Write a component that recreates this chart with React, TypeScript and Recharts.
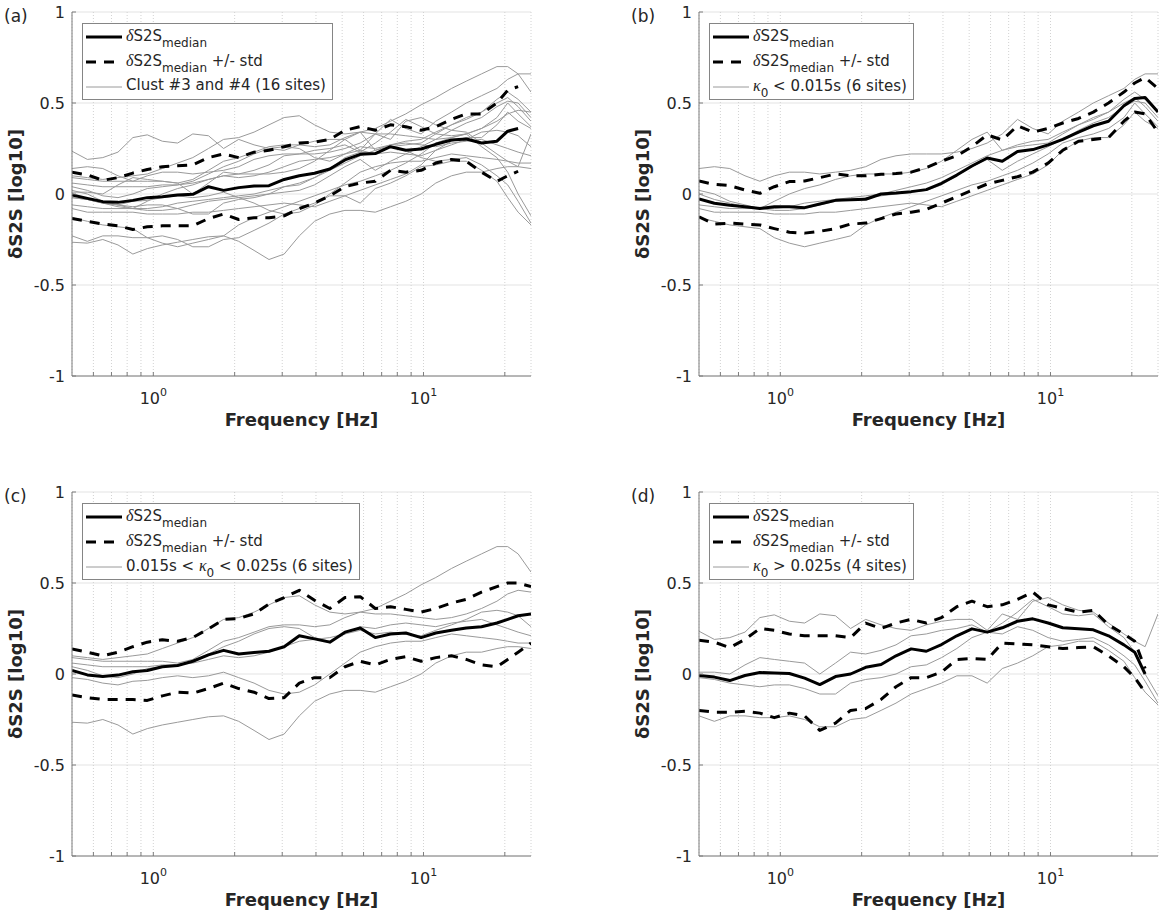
import React from 'react';
import { LineChart, Line, XAxis, YAxis, CartesianGrid, Legend } from 'recharts';

// Frequency samples (Hz) shared by every curve
const FREQ = [
  0.5, 0.57, 0.65, 0.74, 0.84, 0.95, 1.08, 1.23, 1.4, 1.6,
  1.82, 2.07, 2.36, 2.68, 3.05, 3.47, 3.95, 4.5, 5.12, 5.83,
  6.63, 7.55, 8.6, 9.8, 11.1, 12.7, 14.4, 16.4, 18.7, 20.5,
  22.4, 25,
];

const X_TICKS = [0.6, 0.7, 0.8, 0.9, 1, 2, 3, 4, 5, 6, 7, 8, 9, 10, 20];
const X_LABELLED = [1, 10];
const Y_TICKS = [-1, -0.5, 0, 0.5, 1];

// ---- Clusters #3 and #4 together (16 sites) ----
const CLUSTER_MEDIAN = [
  -0.005, -0.024, -0.042, -0.046, -0.035, -0.02, -0.015, -0.005, -0.002, 0.04,
  0.02, 0.035, 0.044, 0.046, 0.08, 0.1, 0.114, 0.137, 0.187, 0.218,
  0.222, 0.26, 0.24, 0.247, 0.273, 0.297, 0.302, 0.28, 0.29, 0.345,
  0.36, null,
];
const CLUSTER_UPPER = [
  0.12, 0.105, 0.075, 0.09, 0.115, 0.135, 0.15, 0.155, 0.16, 0.2,
  0.22, 0.2, 0.23, 0.24, 0.26, 0.28, 0.285, 0.3, 0.35, 0.37,
  0.35, 0.38, 0.37, 0.35, 0.37, 0.41, 0.44, 0.44, 0.5, 0.57,
  0.59, null,
];
const CLUSTER_LOWER = [
  -0.135, -0.15, -0.165, -0.175, -0.195, -0.18, -0.175, -0.175, -0.175, -0.135,
  -0.11, -0.14, -0.13, -0.13, -0.12, -0.08, -0.05, -0.01, 0.04, 0.06,
  0.07, 0.13, 0.12, 0.13, 0.17, 0.19, 0.18, 0.12, 0.07, 0.1,
  0.125, null,
];

// ---- kappa0 < 0.015 s (6 sites) ----
const LOW_K_MEDIAN = [
  -0.027, -0.051, -0.062, -0.07, -0.08, -0.07, -0.07, -0.075, -0.055, -0.035,
  -0.031, -0.029, 0.0, 0.005, 0.013, 0.024, 0.059, 0.104, 0.154, 0.198,
  0.18, 0.233, 0.244, 0.27, 0.3, 0.34, 0.375, 0.4, 0.485, 0.525,
  0.53, 0.45,
];
const LOW_K_UPPER = [
  0.071, 0.053, 0.046, 0.022, 0.004, 0.04, 0.068, 0.071, 0.09, 0.11,
  0.1, 0.1, 0.108, 0.112, 0.12, 0.145, 0.18, 0.21, 0.26, 0.325,
  0.297, 0.375, 0.34, 0.36, 0.39, 0.415, 0.45, 0.5, 0.56, 0.61,
  0.64, 0.58,
];
const LOW_K_LOWER = [
  -0.125, -0.165, -0.16, -0.165, -0.17, -0.19, -0.21, -0.215, -0.205, -0.19,
  -0.165, -0.16, -0.135, -0.11, -0.1, -0.085, -0.05, -0.015, 0.02, 0.055,
  0.075, 0.095, 0.12, 0.17, 0.24, 0.29, 0.3, 0.31, 0.4, 0.45,
  0.44, 0.34,
];
const LOW_K_SITES = [
  [0.14, 0.15, 0.14, 0.1, 0.07, 0.1, 0.12, 0.12, 0.11, 0.12,
    0.13, 0.15, 0.19, 0.21, 0.22, 0.22, 0.22, 0.23, 0.25, 0.28,
    0.33, 0.41, 0.36, 0.33, 0.4, 0.45, 0.5, 0.54, 0.58, 0.63,
    0.66, 0.66],
  [0.02, 0.0, -0.04, -0.06, -0.08, -0.04, 0.0, 0.03, 0.05, 0.08,
    0.1, 0.11, 0.11, 0.11, 0.12, 0.14, 0.18, 0.24, 0.3, 0.34,
    0.24, 0.27, 0.29, 0.3, 0.34, 0.38, 0.42, 0.45, 0.5, 0.53,
    0.48, 0.4],
  [0.0, -0.03, -0.05, -0.07, -0.08, -0.08, -0.07, -0.05, -0.04, -0.03,
    -0.02, -0.01, 0.0, 0.02, 0.04, 0.06, 0.09, 0.13, 0.17, 0.21,
    0.24, 0.26, 0.27, 0.28, 0.33, 0.38, 0.41, 0.45, 0.52, 0.56,
    0.52, 0.45],
  [-0.06, -0.07, -0.08, -0.08, -0.08, -0.09, -0.09, -0.08, -0.06, -0.04,
    -0.03, -0.02, -0.01, 0.0, 0.01, 0.02, 0.05, 0.1, 0.15, 0.19,
    0.13, 0.18, 0.22, 0.26, 0.3, 0.35, 0.39, 0.42, 0.48, 0.51,
    0.5, 0.42],
  [-0.08, -0.1, -0.1, -0.1, -0.1, -0.11, -0.11, -0.11, -0.1, -0.1,
    -0.09, -0.08, -0.07, -0.06, -0.05, -0.06, -0.07, -0.04, -0.01, 0.02,
    0.05, 0.08, 0.11, 0.16, 0.24, 0.29, 0.31, 0.31, 0.38, 0.45,
    0.4, 0.36],
  [-0.13, -0.15, -0.17, -0.18, -0.19, -0.24, -0.27, -0.29, -0.27, -0.25,
    -0.23, -0.17, -0.13, -0.1, -0.07, -0.04, -0.01, 0.02, 0.05, 0.07,
    0.1, 0.13, 0.17, 0.22, 0.28, 0.31, 0.33, 0.36, 0.42, 0.5,
    0.44, 0.37],
];

// ---- 0.015 s < kappa0 < 0.025 s (6 sites) ----
const MID_K_MEDIAN = [
  0.019, -0.005, -0.014, -0.006, 0.012, 0.019, 0.04, 0.047, 0.07, 0.105,
  0.13, 0.11, 0.118, 0.125, 0.15, 0.21, 0.193, 0.175, 0.23, 0.253,
  0.2, 0.22, 0.225, 0.2, 0.225, 0.24, 0.253, 0.26, 0.28, 0.3,
  0.32, 0.33,
];
const MID_K_UPPER = [
  0.138, 0.12, 0.1, 0.12, 0.15, 0.175, 0.188, 0.18, 0.2, 0.248,
  0.3, 0.305, 0.33, 0.385, 0.42, 0.46, 0.405, 0.36, 0.42, 0.425,
  0.36, 0.37, 0.355, 0.34, 0.36, 0.39, 0.41, 0.45, 0.48, 0.5,
  0.5, 0.48,
];
const MID_K_LOWER = [
  -0.115, -0.13, -0.14, -0.14, -0.14, -0.145, -0.12, -0.1, -0.105, -0.08,
  -0.05, -0.08, -0.1, -0.135, -0.13, -0.05, -0.02, -0.02, 0.04, 0.07,
  0.05, 0.08, 0.095, 0.07, 0.09, 0.1, 0.08, 0.05, 0.04, 0.08,
  0.12, 0.17,
];
const MID_K_SITES = [
  [0.1, 0.09, 0.08, 0.09, 0.1, 0.11, 0.14, 0.17, 0.2, 0.25,
    0.3, 0.31, 0.34, 0.38, 0.42, 0.43, 0.38, 0.34, 0.33, 0.34,
    0.36, 0.4, 0.44, 0.49, 0.53, 0.58, 0.62, 0.66, 0.7, 0.7,
    0.66, 0.56],
  [0.09, 0.08, 0.07, 0.07, 0.07, 0.07, 0.07, 0.06, 0.08, 0.13,
    0.18, 0.2, 0.23, 0.26, 0.27, 0.27, 0.26, 0.27, 0.31, 0.34,
    0.33, 0.33, 0.32, 0.31, 0.3, 0.31, 0.33, 0.36, 0.4, 0.44,
    0.46, 0.45],
  [0.06, 0.05, 0.04, 0.04, 0.04, 0.04, 0.05, 0.05, 0.07, 0.11,
    0.15, 0.18, 0.22, 0.25, 0.26, 0.25, 0.2, 0.18, 0.22, 0.26,
    0.25, 0.27, 0.28, 0.27, 0.26, 0.28, 0.29, 0.3, 0.27, 0.25,
    0.23, 0.21],
  [0.04, 0.02, -0.01, -0.02, 0.0, 0.03, 0.04, 0.05, 0.06, 0.08,
    0.1, 0.09, 0.1, 0.12, 0.15, 0.18, 0.19, 0.2, 0.22, 0.24,
    0.22, 0.23, 0.22, 0.21, 0.24, 0.27, 0.3, 0.34, 0.35, 0.34,
    0.32, 0.26],
  [-0.02, -0.03, -0.05, -0.06, -0.04, -0.035, -0.02, -0.01, -0.02, -0.01,
    0.01, -0.02, -0.05, -0.09, -0.11, -0.1, -0.06, 0.0, 0.06, 0.12,
    0.15, 0.17, 0.18, 0.18, 0.2, 0.22, 0.21, 0.2, 0.19, 0.18,
    0.17, 0.17],
  [-0.265, -0.27, -0.25, -0.28, -0.33, -0.3, -0.28, -0.265, -0.25, -0.235,
    -0.23, -0.26, -0.31, -0.36, -0.33, -0.23, -0.15, -0.11, -0.09, -0.09,
    -0.1, -0.07, -0.04, 0.0, 0.06, 0.1, 0.12, 0.12, 0.14, 0.15,
    0.15, 0.14],
];

// ---- kappa0 > 0.025 s (4 sites) ----
const HIGH_K_MEDIAN = [
  -0.008, -0.017, -0.036, -0.008, 0.008, 0.005, 0.003, -0.023, -0.058, -0.014,
  0.0, 0.037, 0.052, 0.1, 0.138, 0.125, 0.162, 0.21, 0.248, 0.23,
  0.254, 0.29, 0.303, 0.28, 0.254, 0.248, 0.243, 0.21, 0.16, 0.12,
  0.0, null,
];
const HIGH_K_UPPER = [
  0.185, 0.175, 0.145, 0.19, 0.25, 0.24, 0.22, 0.21, 0.21, 0.21,
  0.2, 0.28, 0.25, 0.28, 0.3, 0.28, 0.31, 0.37, 0.4, 0.37,
  0.38, 0.41, 0.45, 0.38, 0.36, 0.34, 0.35, 0.27, 0.22, 0.18,
  0.03, null,
];
const HIGH_K_LOWER = [
  -0.2, -0.21, -0.21, -0.205, -0.215, -0.24, -0.215, -0.23, -0.31, -0.27,
  -0.2, -0.19, -0.14, -0.07, -0.02, -0.02, 0.01, 0.08, 0.085, 0.08,
  0.17, 0.165, 0.16, 0.15, 0.14, 0.145, 0.15, 0.1, 0.04, -0.02,
  -0.1, null,
];
const HIGH_K_SITES = [
  [0.235, 0.19, 0.2, 0.23, 0.31, 0.325, 0.29, 0.28, 0.33, 0.32,
    0.25, 0.3, 0.27, 0.25, 0.24, 0.27, 0.29, 0.3, 0.3, 0.24,
    0.33, 0.3, 0.4, 0.42, 0.38, 0.35, 0.34, 0.28, 0.22, 0.18,
    0.15, 0.33],
  [0.01, 0.01, 0.0, 0.05, 0.09, 0.08, 0.07, 0.06, 0.0, 0.06,
    0.12, 0.11, 0.13, 0.16, 0.21, 0.22, 0.24, 0.25, 0.27, 0.23,
    0.28, 0.34, 0.41, 0.37, 0.33, 0.32, 0.33, 0.26, 0.2, 0.12,
    0.0, -0.12],
  [-0.02, -0.03, -0.05, -0.06, -0.07, -0.06, -0.06, -0.08, -0.11, -0.11,
    -0.05, -0.03, -0.02, 0.0, 0.04, 0.05, 0.09, 0.14, 0.2, 0.23,
    0.22, 0.26, 0.24, 0.2, 0.18, 0.19, 0.2, 0.16, 0.1, 0.05,
    -0.04, -0.16],
  [-0.23, -0.26, -0.23, -0.23, -0.24, -0.24, -0.23, -0.25, -0.29, -0.29,
    -0.25, -0.24, -0.2, -0.16, -0.11, -0.08, -0.05, -0.01, -0.01, -0.05,
    0.03, 0.06, 0.1, 0.15, 0.16, 0.18, 0.18, 0.13, 0.07, -0.02,
    -0.1, -0.17],
];

// ---- styling / layout ----
const FONT = '"DejaVu Sans", sans-serif';
const SERIF = '"Liberation Serif", "DejaVu Serif", serif';
const TXT = '#262626';
const AXIS = '#7d7d7d';
const SITE_GRAY = '#9a9a9a';
const DASH = '10 8';

const CHART_W = 534;
const PLOT_TOP = 12;
const PLOT_H = 364;
const Y_AXIS_W = 60;
const X_AXIS_H = 30;
const MARGIN_LEFT = 12;

const Kappa = () => (
  <>
    <span style={{ fontFamily: SERIF, fontStyle: 'italic', fontSize: 16 }}>κ</span>
    <span style={{ fontSize: 12, position: 'relative', top: 6 }}>0</span>
  </>
);

const DeltaMedian = () => (
  <>
    <span style={{ fontFamily: SERIF, fontStyle: 'italic', fontSize: 16 }}>δ</span>S2S
    <span style={{ fontSize: 12, position: 'relative', top: 6 }}>median</span>
  </>
);

type PanelDef = {
  tag: string;
  left: number;
  top: number;
  height: number;
  siteLabel: React.ReactNode;
  median: (number | null)[];
  upper: (number | null)[];
  lower: (number | null)[];
  sites: number[][];
};

const PANELS: PanelDef[] = [
  {
    tag: '(a)', left: 0, top: 0, height: 440,
    siteLabel: <>Clust #3 and #4 (16 sites)</>,
    median: CLUSTER_MEDIAN, upper: CLUSTER_UPPER, lower: CLUSTER_LOWER,
    sites: [...LOW_K_SITES, ...MID_K_SITES, ...HIGH_K_SITES],
  },
  {
    tag: '(b)', left: 627, top: 0, height: 440,
    siteLabel: <><Kappa /> &lt; 0.015s (6 sites)</>,
    median: LOW_K_MEDIAN, upper: LOW_K_UPPER, lower: LOW_K_LOWER,
    sites: LOW_K_SITES,
  },
  {
    tag: '(c)', left: 0, top: 480, height: 435,
    siteLabel: <>0.015s &lt; <Kappa /> &lt; 0.025s (6 sites)</>,
    median: MID_K_MEDIAN, upper: MID_K_UPPER, lower: MID_K_LOWER,
    sites: MID_K_SITES,
  },
  {
    tag: '(d)', left: 627, top: 480, height: 435,
    siteLabel: <><Kappa /> &gt; 0.025s (4 sites)</>,
    median: HIGH_K_MEDIAN, upper: HIGH_K_UPPER, lower: HIGH_K_LOWER,
    sites: HIGH_K_SITES,
  },
];

const FreqTick = (props: any) => {
  const { x, y, payload } = props;
  const v = payload?.value;
  if (!X_LABELLED.includes(v)) return <g />;
  const exp = Math.round(Math.log10(v));
  return (
    <text x={x} y={y} textAnchor="middle" fontFamily={FONT} fontSize={16} fill={TXT}>
      <tspan>10</tspan>
      <tspan dy={-8} fontSize={11}>{exp}</tspan>
    </text>
  );
};

const makeYTitle = (tag: string) => (props: any) => {
  const vb = props?.viewBox ?? { x: MARGIN_LEFT, y: PLOT_TOP, width: Y_AXIS_W, height: PLOT_H };
  const cx = vb.x + 10;
  const cy = vb.y + vb.height / 2;
  return (
    <g>
      <text
        x={cx}
        y={cy}
        transform={`rotate(-90 ${cx} ${cy})`}
        textAnchor="middle"
        fontFamily={FONT}
        fontSize={18}
        fontWeight="bold"
        fill={TXT}
      >
        δS2S [log10]
      </text>
      <text x={vb.x - 8} y={vb.y + 10} fontFamily={FONT} fontSize={17} fill={TXT}>
        {tag}
      </text>
    </g>
  );
};

const xTitle = (props: any) => {
  const vb = props?.viewBox ?? { x: MARGIN_LEFT + Y_AXIS_W, y: PLOT_TOP + PLOT_H, width: 459, height: X_AXIS_H };
  return (
    <text
      x={vb.x + vb.width / 2}
      y={vb.y + 50}
      textAnchor="middle"
      fontFamily={FONT}
      fontSize={18}
      fontWeight="bold"
      fill={TXT}
    >
      Frequency [Hz]
    </text>
  );
};

const LegendRow = ({ kind, children }: { kind: 'median' | 'std' | 'site'; children: React.ReactNode }) => {
  const stroke = kind === 'site' ? SITE_GRAY : '#000';
  const width = kind === 'site' ? 1 : 3;
  return (
    <div style={{ display: 'flex', alignItems: 'flex-start', height: 25, whiteSpace: 'nowrap' }}>
      <svg width={36} height={25} style={{ flex: 'none', display: 'block' }}>
        <line
          x1={0}
          x2={36}
          y1={13}
          y2={13}
          stroke={stroke}
          strokeWidth={width}
          strokeDasharray={kind === 'std' ? DASH : undefined}
        />
      </svg>
      <span style={{ marginLeft: 4, marginTop: 4, lineHeight: '15px' }}>{children}</span>
    </div>
  );
};

const makeLegend = (siteLabel: React.ReactNode) => () => (
  <div
    style={{
      border: '1px solid #858585',
      background: '#fff',
      fontFamily: FONT,
      fontSize: 15,
      color: TXT,
      padding: '0 6px 0 3px',
    }}
  >
    <LegendRow kind="median"><DeltaMedian /></LegendRow>
    <LegendRow kind="std"><DeltaMedian /> +/- std</LegendRow>
    <LegendRow kind="site">{siteLabel}</LegendRow>
  </div>
);

const Panel = ({ p }: { p: PanelDef }) => {
  const rows = FREQ.map((f, i) => {
    const r: Record<string, number | null> = { f, med: p.median[i], up: p.upper[i], lo: p.lower[i] };
    p.sites.forEach((s, j) => {
      r[`site${j}`] = s[i];
    });
    return r;
  });
  const bottom = p.height - PLOT_TOP - PLOT_H - X_AXIS_H;
  const axisCommon = {
    axisLine: { stroke: AXIS, strokeWidth: 1 },
    tickLine: { stroke: AXIS, strokeWidth: 1 },
    tickSize: -4,
  };
  return (
    <div style={{ position: 'absolute', left: p.left, top: p.top }}>
      <LineChart
        width={CHART_W}
        height={p.height}
        data={rows}
        margin={{ top: PLOT_TOP, right: 3, bottom, left: MARGIN_LEFT }}
      >
        <CartesianGrid vertical={false} stroke="#e3e3e3" />
        <CartesianGrid horizontal={false} stroke="#d2d2d2" strokeDasharray="1 2" />
        <XAxis
          dataKey="f"
          type="number"
          scale="log"
          domain={[0.5, 25]}
          allowDataOverflow
          ticks={X_TICKS}
          interval={0}
          height={X_AXIS_H}
          tickMargin={32}
          tick={<FreqTick />}
          label={xTitle}
          {...axisCommon}
        />
        <XAxis
          xAxisId="top"
          orientation="top"
          dataKey="f"
          type="number"
          scale="log"
          domain={[0.5, 25]}
          allowDataOverflow
          ticks={X_TICKS}
          interval={0}
          height={0}
          tick={false}
          {...axisCommon}
        />
        <YAxis
          type="number"
          domain={[-1, 1]}
          ticks={Y_TICKS}
          interval={0}
          width={Y_AXIS_W}
          tickMargin={11}
          tick={{ fontSize: 16, fill: TXT, fontFamily: FONT }}
          tickFormatter={(v: number) => String(v)}
          label={makeYTitle(p.tag)}
          {...axisCommon}
        />
        <YAxis
          yAxisId="right"
          orientation="right"
          type="number"
          domain={[-1, 1]}
          ticks={Y_TICKS}
          interval={0}
          width={0}
          tick={false}
          {...axisCommon}
        />
        {p.sites.map((_, j) => (
          <Line
            key={`site${j}`}
            dataKey={`site${j}`}
            type="linear"
            stroke={SITE_GRAY}
            strokeWidth={1}
            strokeLinejoin="round"
            dot={false}
            activeDot={false}
            isAnimationActive={false}
          />
        ))}
        <Line dataKey="up" type="linear" stroke="#000" strokeWidth={3} strokeDasharray={DASH}
          strokeLinejoin="round" dot={false} activeDot={false} isAnimationActive={false} />
        <Line dataKey="lo" type="linear" stroke="#000" strokeWidth={3} strokeDasharray={DASH}
          strokeLinejoin="round" dot={false} activeDot={false} isAnimationActive={false} />
        <Line dataKey="med" type="linear" stroke="#000" strokeWidth={3}
          strokeLinejoin="round" dot={false} activeDot={false} isAnimationActive={false} />
        <Legend
          layout="vertical"
          align="center"
          verticalAlign="middle"
          content={makeLegend(p.siteLabel)}
          wrapperStyle={{ left: 82, top: 23, width: 'auto', height: 'auto' }}
        />
      </LineChart>
    </div>
  );
};

export default function App() {
  return (
    <div
      style={{
        position: 'absolute',
        left: 0,
        top: 0,
        width: 1161,
        height: 915,
        overflow: 'hidden',
        background: '#fff',
      }}
    >
      {PANELS.map((p) => (
        <Panel key={p.tag} p={p} />
      ))}
    </div>
  );
}
